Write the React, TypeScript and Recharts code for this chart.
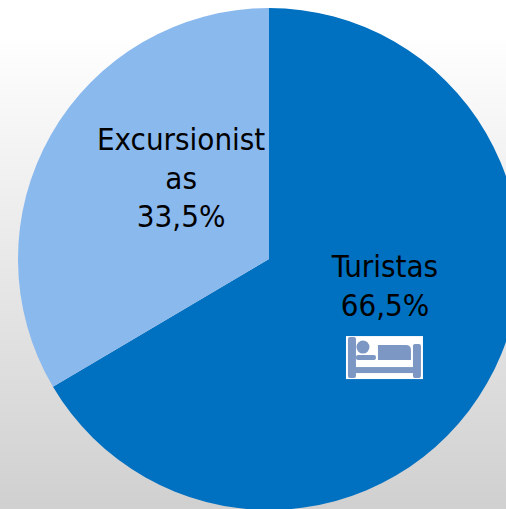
import React from 'react';
import { PieChart, Pie, Cell } from 'recharts';

const categories = ['Turistas', 'Excursionistas'];
const values = [66.5, 33.5];
const valueLabels = ['66,5%', '33,5%'];
const labelLines = [['Turistas', '66,5%'], ['Excursionist', 'as', '33,5%']];
const colors = ['#0070C0', '#8AB9EE'];
const data = categories.map((name, i) => ({ name, value: values[i] }));

const FONT = 'Tahoma, "DejaVu Sans Condensed", "DejaVu Sans", sans-serif';
const LINE = 38.5;

function BedIcon({ x, y }: { x: number; y: number }) {
  const c = '#7C97C4';
  return (
    <g transform={`translate(${x},${y})`}>
      <rect x={0} y={0} width={77} height={43} fill="#fff" />
      <rect x={2} y={1} width={8} height={41} rx={2} fill={c} />
      <rect x={67} y={8} width={8} height={34} rx={2} fill={c} />
      <rect x={8} y={31} width={62} height={6} fill={c} />
      <circle cx={17} cy={11} r={6.5} fill={c} />
      <rect x={10} y={19} width={20} height={5} rx={2} fill={c} />
      <path d="M32 9 H60 Q65 9 65 14 V24 H32 Z" fill={c} />
      <path d="M24 9 L29 9 L29 16 L24 16 Z" fill="#fff" />
      <rect x={10} y={25} width={57} height={2} fill="#fff" />
    </g>
  );
}

function renderLabel(p: any) {
  const { cx, cy, outerRadius, index } = p;
  const isFirst = index === 0;
  const tx = cx + outerRadius * (isFirst ? 0.462 : -0.35);
  const firstBaseline = cy + outerRadius * (isFirst ? 0.072 : -0.434);
  const lines = labelLines[index];
  return (
    <g key={index}>
      <text textAnchor="middle" fontFamily={FONT} fontSize={31} fill="#000">
        {lines.map((l, i) => (
          <tspan key={i} x={tx} y={firstBaseline + i * LINE}>{l}</tspan>
        ))}
      </text>
      {isFirst ? <BedIcon x={tx - 39} y={firstBaseline + 59} /> : null}
    </g>
  );
}

export default function App() {
  return (
    <div
      style={{
        position: 'absolute',
        left: 0,
        top: 0,
        width: 506,
        height: 509,
        overflow: 'hidden',
        background: 'linear-gradient(to bottom, #ffffff 0px, #ffffff 30px, #d0d0d0 509px)',
      }}
    >
      <PieChart width={506} height={509} margin={{ top: 0, right: 0, bottom: 0, left: 0 }}>
        <Pie
          data={data}
          dataKey="value"
          nameKey="name"
          cx={269}
          cy={259}
          innerRadius={0}
          outerRadius={251}
          startAngle={90}
          endAngle={-270}
          stroke="none"
          label={renderLabel}
          labelLine={false}
          isAnimationActive={false}
        >
          {data.map((d, i) => (
            <Cell key={d.name} fill={colors[i]} />
          ))}
        </Pie>
      </PieChart>
    </div>
  );
}
